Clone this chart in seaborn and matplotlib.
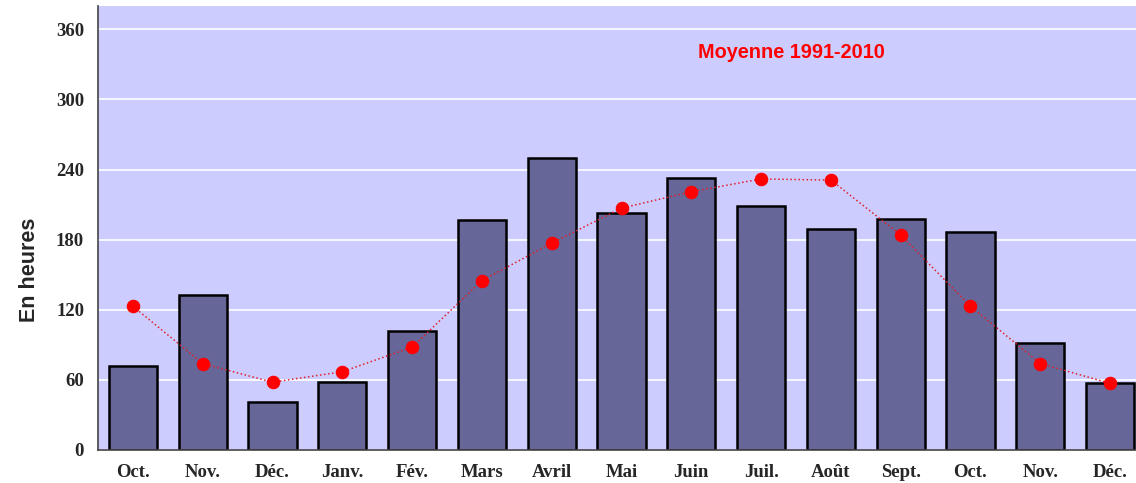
import matplotlib
matplotlib.use("Agg")
import matplotlib.pyplot as plt
import seaborn as sns
import pandas as pd

# mois (octobre -> décembre de l'année suivante)
mois = ['Oct.', 'Nov.', 'Déc.', 'Janv.', 'Fév.', 'Mars', 'Avril', 'Mai',
        'Juin', 'Juil.', 'Août', 'Sept.', 'Oct.', 'Nov.', 'Déc.']
heures = [72, 133, 41, 58, 102, 197, 250, 203, 233, 209, 189, 198, 187, 92, 57]
moyenne = [123, 74, 58, 67, 88, 145, 177, 207, 221, 232, 231, 184, 123, 74, 57]

df = pd.DataFrame({'pos': range(len(mois)), 'heures': heures, 'moyenne': moyenne})

sns.set_style('white')

fig = plt.figure(figsize=(11.36, 4.83), dpi=100)
ax = fig.add_axes([98 / 1136, 33 / 483, 1047 / 1136, 444 / 483])
ax.set_facecolor('#CCCCFF')

ax.set_axisbelow(True)
ax.yaxis.grid(True, color='white', linewidth=1.2)

sns.barplot(data=df, x='pos', y='heures', color='#666699', saturation=1,
            width=0.69, edgecolor='black', linewidth=1.8, ax=ax)
sns.lineplot(data=df, x='pos', y='moyenne', color='#E0202A', linestyle=':',
             linewidth=1.1, marker='o', markersize=9, markerfacecolor='red',
             markeredgecolor='red', ax=ax)

ax.set_xlim(-0.5, 14.5)
ax.set_ylim(0, 380)
ax.set_yticks([0, 60, 120, 180, 240, 300, 360])
ax.set_xticks(range(len(mois)))
ax.set_xticklabels(mois)
for lab in ax.get_xticklabels() + ax.get_yticklabels():
    lab.set_fontfamily('Liberation Serif')
    lab.set_fontweight('bold')
    lab.set_fontsize(13.5)
for lab in ax.get_xticklabels():
    lab.set_verticalalignment('baseline')
ax.tick_params(axis='x', length=0, pad=19.5)
ax.tick_params(axis='y', length=0, pad=10)

ax.set_xlabel('')
ax.set_ylabel('En heures', fontsize=15.5, fontweight='bold', family='Liberation Sans')
ax.yaxis.set_label_coords(-0.0556, 0.405)

for s in ['top', 'right']:
    ax.spines[s].set_visible(False)
for s in ['left', 'bottom']:
    ax.spines[s].set_color('#444444')
    ax.spines[s].set_linewidth(1.2)

ax.text(9.43, 340, 'Moyenne 1991-2010', color='red', fontsize=14.3, fontweight='bold',
        family='Liberation Sans', ha='center', va='center')

fig.savefig('out.png', dpi=100)
